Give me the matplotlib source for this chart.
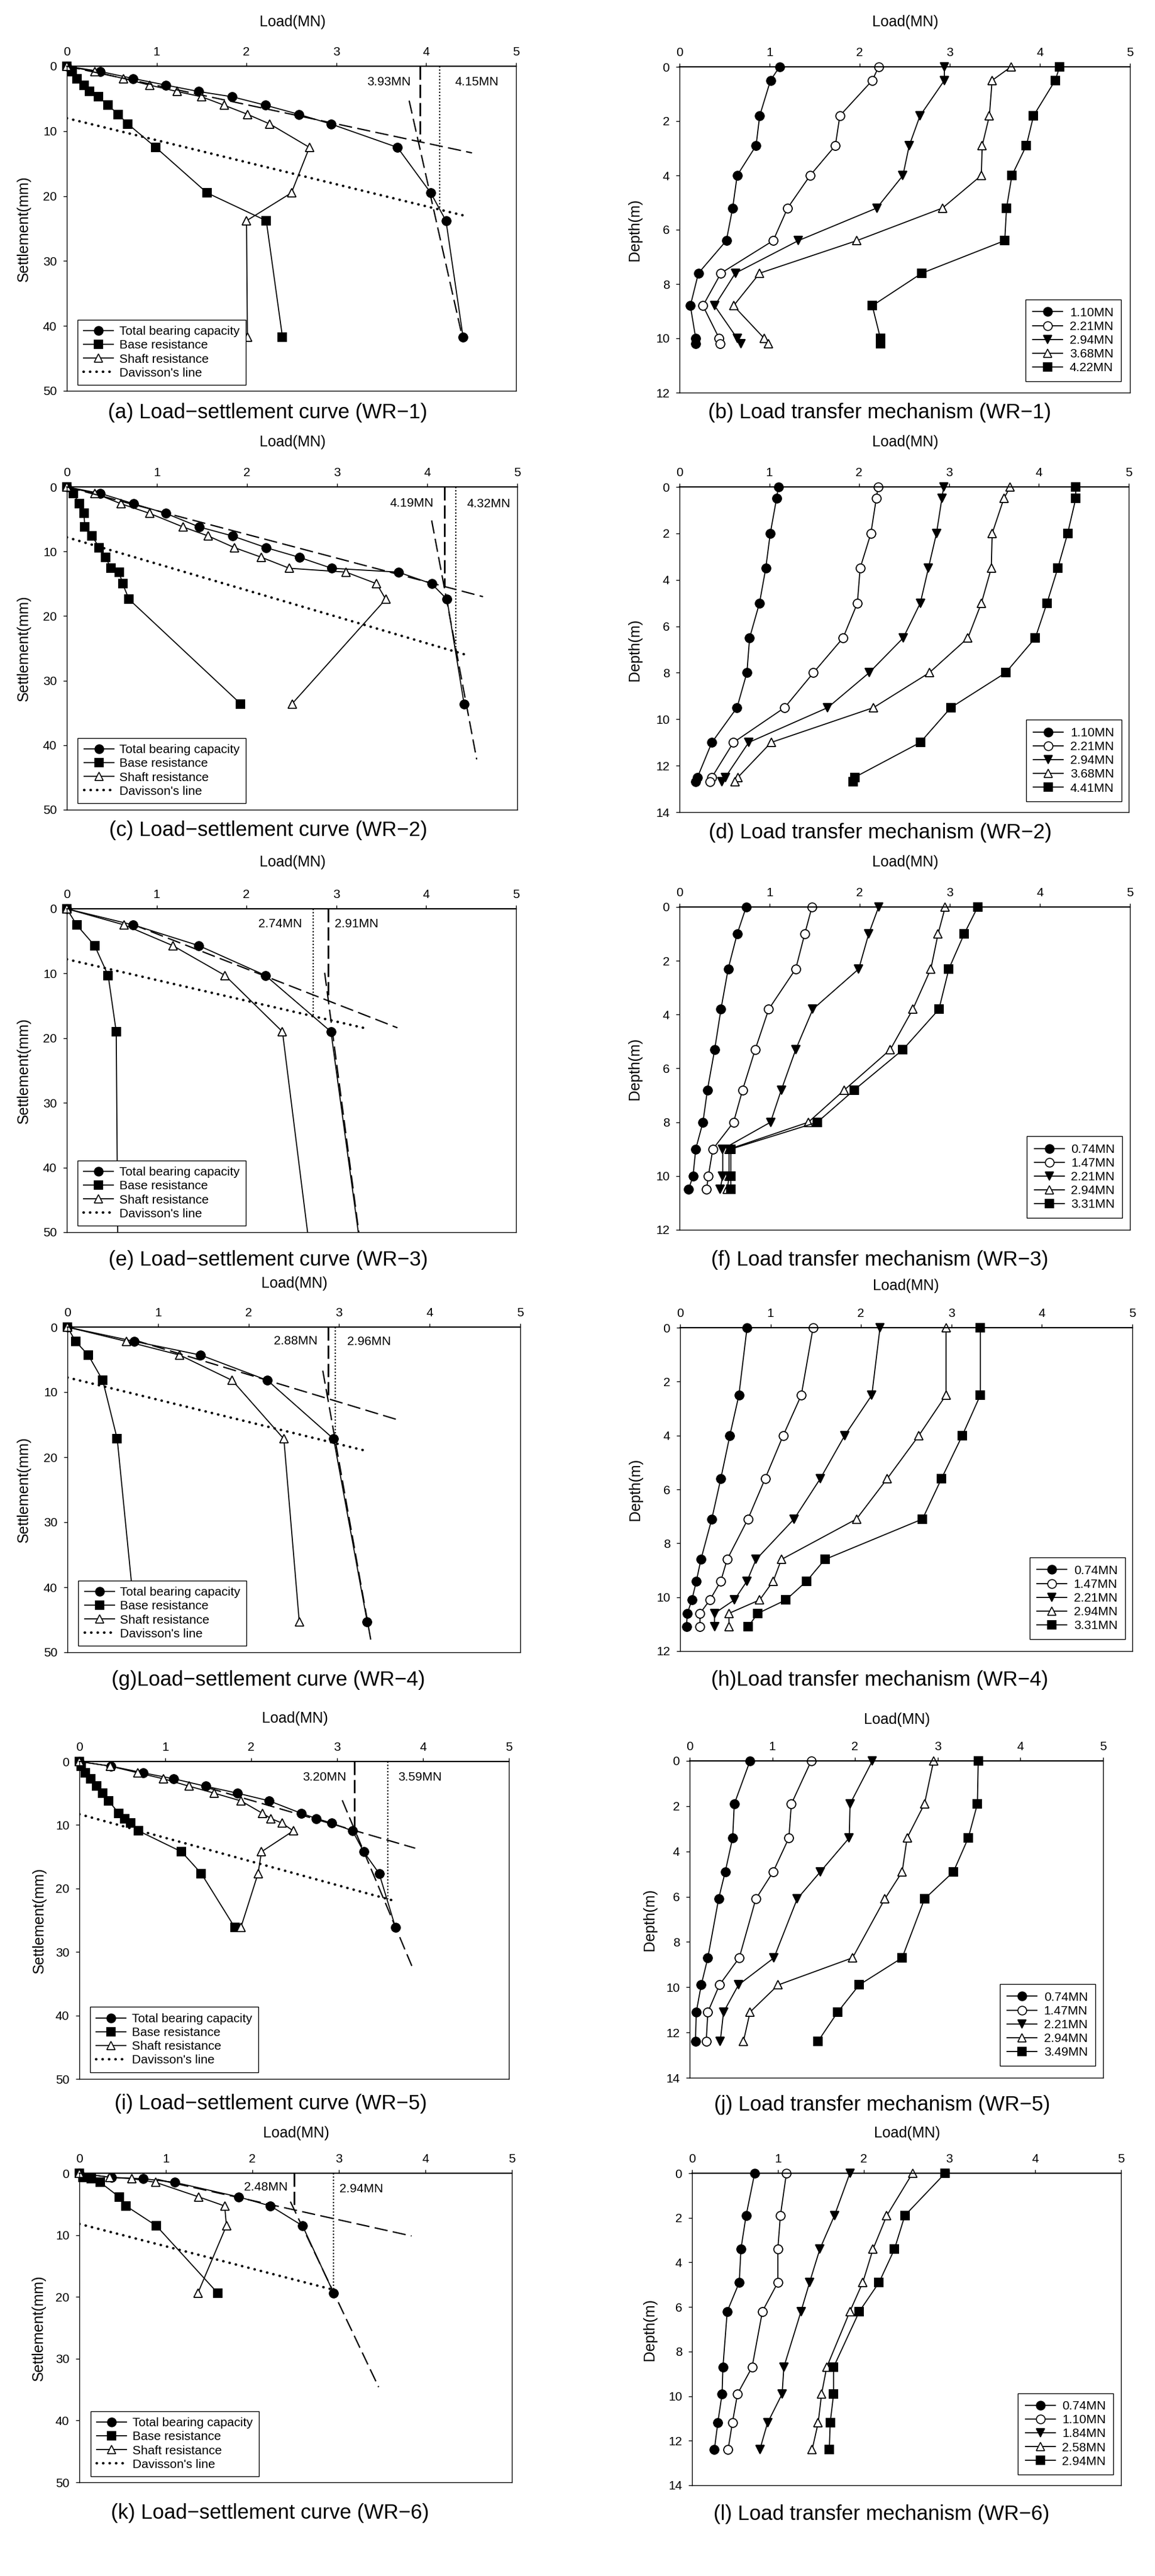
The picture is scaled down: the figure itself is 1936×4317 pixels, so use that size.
import matplotlib
matplotlib.use("Agg")
import numpy as np
import matplotlib.pyplot as plt
from matplotlib import font_manager as fm

plt.rcParams['font.family'] = ['Liberation Sans', 'DejaVu Sans']

# ---------------- WR-1 ----------------
wr1_settle = [0, 0.8, 1.9, 2.9, 3.9, 4.7, 6.0, 7.4, 8.9, 12.5, 19.5, 23.8, 41.7]
wr1_total = [0, 0.37, 0.74, 1.10, 1.47, 1.84, 2.21, 2.58, 2.94, 3.68, 4.05, 4.22, 4.41]
wr1_base = [0, 0.06, 0.11, 0.19, 0.25, 0.35, 0.46, 0.57, 0.68, 0.99, 1.56, 2.22, 2.40]
wr1_shaft = [0, 0.31, 0.63, 0.92, 1.23, 1.50, 1.75, 2.01, 2.26, 2.70, 2.50, 2.00, 2.01]
wr1_davisson = ([0, 4.42], [8.0, 23.0])
wr1_tan1 = ([0, 4.51], [0, 13.35])
wr1_tan2 = ([3.81, 4.40], [5.3, 41.6])
wr1_q = (3.93, 11.6)      # tangent-intersection load, end of marker line
wr1_qd = (4.15, 22.1)     # Davisson load
wr1_depth = [0, 0.5, 1.8, 2.9, 4.0, 5.2, 6.4, 7.6, 8.8, 10.0, 10.2]
wr1_t110 = [1.11, 1.01, 0.89, 0.85, 0.64, 0.59, 0.52, 0.21, 0.12, 0.18, 0.18]
wr1_t221 = [2.21, 2.14, 1.78, 1.73, 1.45, 1.20, 1.04, 0.46, 0.26, 0.44, 0.45]
wr1_t294 = [2.94, 2.94, 2.67, 2.55, 2.48, 2.19, 1.32, 0.62, 0.39, 0.64, 0.68]
wr1_t368 = [3.68, 3.47, 3.44, 3.36, 3.35, 2.92, 1.97, 0.89, 0.60, 0.94, 0.99]
wr1_t422 = [4.22, 4.17, 3.93, 3.85, 3.69, 3.63, 3.61, 2.69, 2.14, 2.23, 2.23]
wr1_labels = ['1.10MN', '2.21MN', '2.94MN', '3.68MN', '4.22MN']

# ---------------- WR-2 ----------------
wr2_settle = [0, 1.0, 2.6, 4.1, 6.2, 7.6, 9.4, 10.9, 12.6, 13.2, 15.0, 17.4, 33.6]
wr2_total = [0, 0.37, 0.74, 1.10, 1.47, 1.84, 2.21, 2.58, 2.94, 3.68, 4.05, 4.22, 4.41]
wr2_base = [0, 0.07, 0.14, 0.19, 0.20, 0.28, 0.36, 0.43, 0.49, 0.58, 0.62, 0.69, 1.93]
wr2_shaft = [0, 0.31, 0.60, 0.92, 1.29, 1.57, 1.86, 2.16, 2.47, 3.10, 3.44, 3.54, 2.50]
wr2_davisson = ([0, 4.43], [7.8, 26.0])
wr2_tan1 = ([0, 4.62], [0, 17.0])
wr2_tan2 = ([4.05, 4.55], [5.2, 42.2])
wr2_q = (4.19, 15.5)
wr2_qd = (4.32, 25.6)
wr2_depth = [0, 0.5, 2.0, 3.5, 5.0, 6.5, 8.0, 9.5, 11.0, 12.5, 12.7]
wr2_t110 = [1.10, 1.08, 1.01, 0.96, 0.89, 0.78, 0.75, 0.64, 0.36, 0.20, 0.18]
wr2_t221 = [2.21, 2.19, 2.13, 2.01, 1.98, 1.82, 1.49, 1.17, 0.60, 0.36, 0.34]
wr2_t294 = [2.94, 2.92, 2.86, 2.77, 2.68, 2.49, 2.11, 1.65, 0.77, 0.51, 0.47]
wr2_t368 = [3.68, 3.61, 3.48, 3.47, 3.36, 3.21, 2.78, 2.16, 1.02, 0.65, 0.62]
wr2_t441 = [4.41, 4.41, 4.32, 4.21, 4.09, 3.96, 3.63, 3.02, 2.68, 1.95, 1.93]
wr2_labels = ['1.10MN', '2.21MN', '2.94MN', '3.68MN', '4.41MN']

# ---------------- WR-3 ----------------
wr3_settle = [0, 2.5, 5.7, 10.3, 19.0, 56.7]
wr3_total = [0, 0.74, 1.47, 2.21, 2.94, 3.31]
wr3_base = [0, 0.11, 0.31, 0.46, 0.55, 0.57]
wr3_shaft = [0, 0.64, 1.18, 1.76, 2.40, 2.74]
wr3_davisson = ([0, 3.30], [7.8, 18.4])
wr3_tan1 = ([0.74, 3.68], [2.45, 18.4])
wr3_tan2 = ([2.87, 3.25], [9.9, 50.0])
wr3_q = (2.91, 14.2)
wr3_qd = (2.74, 16.6)
wr3_depth = [0, 1.0, 2.3, 3.8, 5.3, 6.8, 8.0, 9.0, 10.0, 10.5]
wr3_t074 = [0.74, 0.64, 0.54, 0.46, 0.39, 0.31, 0.26, 0.18, 0.15, 0.10]
wr3_t147 = [1.47, 1.39, 1.29, 0.99, 0.84, 0.70, 0.60, 0.37, 0.32, 0.30]
wr3_t221 = [2.21, 2.10, 1.99, 1.48, 1.29, 1.13, 1.01, 0.48, 0.48, 0.45]
wr3_t294 = [2.95, 2.87, 2.79, 2.59, 2.34, 1.83, 1.43, 0.55, 0.55, 0.53]
wr3_t331 = [3.31, 3.16, 2.99, 2.88, 2.48, 1.94, 1.53, 0.57, 0.57, 0.57]
wr3_labels = ['0.74MN', '1.47MN', '2.21MN', '2.94MN', '3.31MN']

# ---------------- WR-4 ----------------
wr4_settle = [0, 2.2, 4.3, 8.2, 17.2, 45.3]
wr4_total = [0, 0.74, 1.47, 2.21, 2.94, 3.31]
wr4_base = [0, 0.09, 0.23, 0.39, 0.55, 0.75]
wr4_shaft = [0, 0.65, 1.24, 1.82, 2.39, 2.56]
wr4_davisson = ([0, 3.29], [7.75, 19.0])
wr4_tan1 = ([0.74, 3.67], [2.0, 14.35])
wr4_tan2 = ([2.82, 3.35], [6.7, 48.1])
wr4_q = (2.88, 11.0)
wr4_qd = (2.96, 17.9)
wr4_depth = [0, 2.5, 4.0, 5.6, 7.1, 8.6, 9.4, 10.1, 10.6, 11.1]
wr4_t074 = [0.74, 0.65, 0.55, 0.45, 0.35, 0.23, 0.18, 0.13, 0.08, 0.07]
wr4_t147 = [1.47, 1.34, 1.14, 0.94, 0.75, 0.52, 0.45, 0.33, 0.22, 0.22]
wr4_t221 = [2.21, 2.12, 1.82, 1.55, 1.26, 0.84, 0.74, 0.60, 0.38, 0.38]
wr4_t294 = [2.94, 2.94, 2.64, 2.29, 1.95, 1.12, 1.03, 0.88, 0.54, 0.54]
wr4_t331 = [3.32, 3.32, 3.12, 2.89, 2.68, 1.60, 1.40, 1.17, 0.86, 0.75]
wr4_labels = ['0.74MN', '1.47MN', '2.21MN', '2.94MN', '3.31MN']

# ---------------- WR-5 ----------------
wr5_settle = [0, 0.74, 1.78, 2.73, 3.9, 4.99, 6.2, 8.15, 8.98, 9.71, 10.93, 14.22, 17.65, 26.15]
wr5_total = [0, 0.37, 0.74, 1.10, 1.47, 1.84, 2.21, 2.58, 2.76, 2.94, 3.18, 3.31, 3.49, 3.68]
wr5_base = [0, 0.02, 0.07, 0.13, 0.20, 0.27, 0.34, 0.46, 0.53, 0.60, 0.69, 1.19, 1.42, 1.81]
wr5_shaft = [0, 0.36, 0.68, 0.98, 1.28, 1.57, 1.88, 2.13, 2.23, 2.36, 2.49, 2.12, 2.08, 1.88]
wr5_davisson = ([0, 3.68], [8.3, 22.0])
wr5_tan1 = ([1.5, 3.91], [4.15, 13.66])
wr5_tan2 = ([3.06, 3.87], [6.1, 32.2])
wr5_q = (3.20, 10.9)
wr5_qd = (3.59, 21.7)
wr5_depth = [0, 1.9, 3.4, 4.9, 6.1, 8.7, 9.9, 11.1, 12.4]
wr5_t074 = [0.73, 0.54, 0.52, 0.43, 0.35, 0.22, 0.14, 0.08, 0.07]
wr5_t147 = [1.47, 1.23, 1.20, 1.01, 0.80, 0.60, 0.36, 0.22, 0.20]
wr5_t221 = [2.21, 1.94, 1.93, 1.58, 1.30, 1.02, 0.59, 0.41, 0.37]
wr5_t294 = [2.95, 2.84, 2.63, 2.57, 2.36, 1.97, 1.07, 0.73, 0.65]
wr5_t349 = [3.49, 3.48, 3.37, 3.19, 2.84, 2.57, 2.05, 1.79, 1.55]
wr5_labels = ['0.74MN', '1.47MN', '2.21MN', '2.94MN', '3.49MN']

# ---------------- WR-6 ----------------
wr6_settle = [0, 0.67, 0.89, 1.47, 3.83, 5.3, 8.5, 19.4]
wr6_total = [0, 0.37, 0.74, 1.10, 1.84, 2.21, 2.58, 2.94]
wr6_base = [0, 0.04, 0.14, 0.24, 0.46, 0.54, 0.89, 1.60]
wr6_shaft = [0, 0.35, 0.61, 0.88, 1.38, 1.68, 1.70, 1.37]
wr6_davisson = ([0, 2.95], [8.2, 18.9])
wr6_tan1 = ([0.9, 3.84], [1.0, 10.15])
wr6_tan2 = ([2.44, 3.46], [4.6, 34.6])
wr6_q = (2.48, 5.9)
wr6_qd = (2.94, 18.9)
wr6_depth = [0, 1.9, 3.4, 4.9, 6.2, 8.7, 9.9, 11.2, 12.4]
wr6_t074 = [0.73, 0.63, 0.57, 0.55, 0.41, 0.36, 0.35, 0.30, 0.26]
wr6_t110 = [1.10, 1.03, 1.00, 1.00, 0.82, 0.70, 0.53, 0.47, 0.42]
wr6_t184 = [1.84, 1.66, 1.49, 1.37, 1.27, 1.07, 1.05, 0.88, 0.79]
wr6_t258 = [2.57, 2.27, 2.11, 1.99, 1.84, 1.57, 1.51, 1.47, 1.40]
wr6_t294 = [2.95, 2.48, 2.36, 2.18, 1.95, 1.65, 1.65, 1.61, 1.60]
wr6_labels = ['0.74MN', '1.10MN', '1.84MN', '2.58MN', '2.94MN']

W, H = 1936, 4317
fig = plt.figure(figsize=(W / 100, H / 100), dpi=100)

# captions use a narrow face when one is installed, else a smaller regular one
installed = {f.name for f in fm.fontManager.ttflist}
if 'Liberation Sans Narrow' in installed:
    CAP_FONT, CAP_SIZE, SEP = 'Liberation Sans Narrow', 29, '  '
else:
    CAP_FONT, CAP_SIZE, SEP = 'Liberation Sans', 25, ' '


def px_box(l, t, r, b):
    return [l / W, 1 - b / H, (r - l) / W, (b - t) / H]


def fig_text(x, y, s, **kw):
    fig.text(x / W, 1 - y / H, s, ha='center', va='center', **kw)


def style_axes(ax, ymax, ystep, ylabel, ylab_x):
    ax.set_xlim(0, 5)
    ax.set_ylim(ymax, 0)
    ax.xaxis.tick_top()
    ax.set_xticks(range(6))
    ax.set_yticks(range(0, ymax + 1, ystep))
    ax.tick_params(axis='both', labelsize=15, direction='out', length=4, width=1)
    ax.tick_params(axis='x', pad=6)
    ax.tick_params(axis='y', pad=8)
    for s in ax.spines.values():
        s.set_linewidth(1.0)
    ax.spines['top'].set_linewidth(1.6)
    ax.set_ylabel(ylabel, fontsize=18, va='center')
    ax.yaxis.set_label_coords(ylab_x, 0.5)


def series(ax, x, y, marker, face, ms, ymax, label=None):
    x = np.asarray(x)
    y = np.asarray(y)
    ax.plot(x, y, color='k', lw=1.3, marker=marker, ms=ms, mfc=face,
            mec='k', mew=1.2, label=label)
    inside = y <= ymax
    ax.plot(x[inside], y[inside], ls='none', marker=marker, ms=ms, mfc=face,
            mec='k', mew=1.2, clip_on=False)


def settle_panel(rect, settle, total, base, shaft, dav, tan1, tan2, q, qd,
                 texts, leg_xy, ylab_x):
    ax = fig.add_axes(px_box(*rect))
    series(ax, total, settle, 'o', 'k', 10.5, 50, 'Total bearing capacity')
    series(ax, base, settle, 's', 'k', 9.5, 50, 'Base resistance')
    series(ax, shaft, settle, '^', 'w', 10.5, 50, 'Shaft resistance')
    ax.plot(dav[0], dav[1], color='k', lw=3, ls=(0, (0.1, 2.5)),
            dash_capstyle='round', label="Davisson's line")
    dash = (0, (10, 4))
    ax.plot(tan1[0], tan1[1], color='k', lw=1.6, ls=dash)
    ax.plot(tan2[0], tan2[1], color='k', lw=1.6, ls=dash)
    ax.plot([q[0], q[0]], [0, q[1]], color='k', lw=2.0, ls=(0, (8, 3)))
    ax.plot([qd[0], qd[0]], [0, qd[1]], color='k', lw=1.6, ls=(0, (1, 1.4)))
    for s, x, y, ha in texts:
        ax.text(x, y, s, ha=ha, va='center', fontsize=15)
    style_axes(ax, 50, 10, 'Settlement(mm)', ylab_x)
    leg = ax.legend(loc='lower left', bbox_to_anchor=leg_xy, fontsize=15,
                    fancybox=False, edgecolor='k', framealpha=1, borderpad=0.5,
                    labelspacing=0.2, handlelength=2.4, handletextpad=0.45,
                    borderaxespad=0)
    leg.get_frame().set_linewidth(1.0)
    return ax


def transfer_panel(rect, depth, loads, labels, ymax, leg_xy, ylab_x):
    ax = fig.add_axes(px_box(*rect))
    styles = [('o', 'k', 10.5), ('o', 'w', 10.5), ('v', 'k', 10.5),
              ('^', 'w', 10.5), ('s', 'k', 9.5)]
    for vals, lab, (m, f, ms) in zip(loads, labels, styles):
        series(ax, vals, depth, m, f, ms, ymax, lab)
    style_axes(ax, ymax, 2, 'Depth(m)', ylab_x)
    leg = ax.legend(loc='lower right', bbox_to_anchor=leg_xy, fontsize=15,
                    fancybox=False, edgecolor='k', framealpha=1, borderpad=0.6,
                    labelspacing=0.2, handlelength=2.4, handletextpad=0.55,
                    borderaxespad=0)
    leg.get_frame().set_linewidth(1.0)
    return ax


# ---- row 1 ----
settle_panel((112, 111, 865, 655), wr1_settle, wr1_total, wr1_base, wr1_shaft,
             wr1_davisson, wr1_tan1, wr1_tan2, wr1_q, wr1_qd,
             [('3.93MN', 3.83, 2.4, 'right'), ('4.15MN', 4.32, 2.4, 'left')],
             (0.024, 0.018), -0.096)
transfer_panel((1139, 112, 1894, 658), wr1_depth,
               [wr1_t110, wr1_t221, wr1_t294, wr1_t368, wr1_t422], wr1_labels,
               12, (0.98, 0.035), -0.099)

# ---- row 2 ----
settle_panel((112, 816, 867, 1357), wr2_settle, wr2_total, wr2_base, wr2_shaft,
             wr2_davisson, wr2_tan1, wr2_tan2, wr2_q, wr2_qd,
             [('4.19MN', 4.07, 2.5, 'right'), ('4.32MN', 4.44, 2.6, 'left')],
             (0.024, 0.02), -0.095)
transfer_panel((1139, 816, 1892, 1361), wr2_depth,
               [wr2_t110, wr2_t221, wr2_t294, wr2_t368, wr2_t441], wr2_labels,
               14, (0.984, 0.033), -0.099)

# ---- row 3 ----
settle_panel((112, 1523, 865, 2065), wr3_settle, wr3_total, wr3_base, wr3_shaft,
             wr3_davisson, wr3_tan1, wr3_tan2, wr3_q, wr3_qd,
             [('2.74MN', 2.62, 2.34, 'right'), ('2.91MN', 2.98, 2.34, 'left')],
             (0.024, 0.02), -0.096)
transfer_panel((1139, 1520, 1894, 2061), wr3_depth,
               [wr3_t074, wr3_t147, wr3_t221, wr3_t294, wr3_t331], wr3_labels,
               12, (0.983, 0.037), -0.099)

# ---- row 4 ----
settle_panel((113, 2224, 872, 2769), wr4_settle, wr4_total, wr4_base, wr4_shaft,
             wr4_davisson, wr4_tan1, wr4_tan2, wr4_q, wr4_qd,
             [('2.88MN', 2.76, 2.16, 'right'), ('2.96MN', 3.09, 2.29, 'left')],
             (0.024, 0.02), -0.096)
transfer_panel((1140, 2225, 1898, 2767), wr4_depth,
               [wr4_t074, wr4_t147, wr4_t221, wr4_t294, wr4_t331], wr4_labels,
               12, (0.984, 0.037), -0.099)

# ---- row 5 ----
settle_panel((133, 2952, 853, 3484), wr5_settle, wr5_total, wr5_base, wr5_shaft,
             wr5_davisson, wr5_tan1, wr5_tan2, wr5_q, wr5_qd,
             [('3.20MN', 3.11, 2.52, 'right'), ('3.59MN', 3.71, 2.52, 'left')],
             (0.025, 0.021), -0.094)
transfer_panel((1156, 2951, 1849, 3482), wr5_depth,
               [wr5_t074, wr5_t147, wr5_t221, wr5_t294, wr5_t349], wr5_labels,
               14, (0.981, 0.038), -0.097)

# ---- row 6 ----
settle_panel((133, 3642, 858, 4160), wr6_settle, wr6_total, wr6_base, wr6_shaft,
             wr6_davisson, wr6_tan1, wr6_tan2, wr6_q, wr6_qd,
             [('2.48MN', 2.41, 2.23, 'right'), ('2.94MN', 3.01, 2.58, 'left')],
             (0.026, 0.019), -0.094)
transfer_panel((1160, 3642, 1879, 4165), wr6_depth,
               [wr6_t074, wr6_t110, wr6_t184, wr6_t258, wr6_t294], wr6_labels,
               14, (0.982, 0.034), -0.099)

# axis titles above each panel
for x, y in [(490, 37), (1517, 37), (490, 741), (1517, 741), (490, 1445), (1517, 1445),
             (493, 2151), (1518, 2155), (494, 2880), (1503, 2882), (496, 3575), (1520, 3575)]:
    fig_text(x, y, 'Load(MN)', fontsize=18)

captions = [
    (449, 692, '(a) Load\u2212settlement curve (WR\u22121)'),
    (1474, 692, '(b) Load transfer mechanism (WR\u22121)'),
    (450, 1391, '(c) Load\u2212settlement curve (WR\u22122)'),
    (1475, 1396, '(d) Load transfer mechanism (WR\u22122)'),
    (450, 2111, '(e) Load\u2212settlement curve (WR\u22123)'),
    (1475, 2111, '(f) Load transfer mechanism (WR\u22123)'),
    (450, 2815, '(g)Load\u2212settlement curve (WR\u22124)'),
    (1474, 2815, '(h)Load transfer mechanism (WR\u22124)'),
    (454, 3526, '(i) Load\u2212settlement curve (WR\u22125)'),
    (1479, 3528, '(j) Load transfer mechanism (WR\u22125)'),
    (453, 4211, '(k) Load\u2212settlement curve (WR\u22126)'),
    (1478, 4213, '(l) Load transfer mechanism (WR\u22126)'),
]
for x, y, s in captions:
    fig_text(x, y, s.replace(' ', SEP), fontsize=CAP_SIZE, family=CAP_FONT)

fig.savefig('out.png', dpi=100, facecolor='white')
